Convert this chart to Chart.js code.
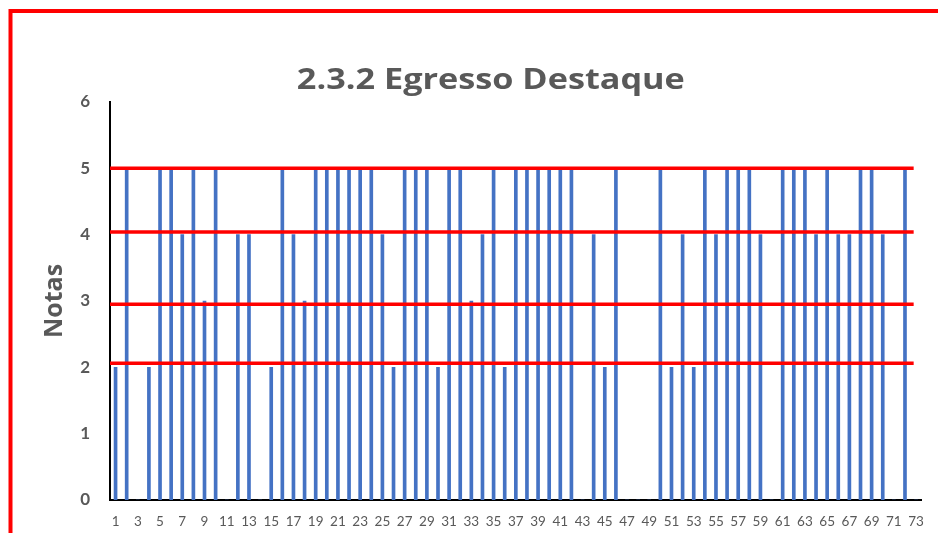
<!DOCTYPE html>
<html>
<head>
<meta charset="utf-8">
<title>2.3.2 Egresso Destaque</title>
<script src="https://cdn.jsdelivr.net/npm/chart.js@4.4.1/dist/chart.umd.min.js"></script>
<style>
    html, body { margin: 0; padding: 0; background: #fff; }
    #wrap { width: 938px; height: 533px; position: relative; }
</style>
</head>
<body>
<div id="wrap"><canvas id="graf"></canvas></div>
<script>
// notas por egresso (1..73), zero = sem nota
const egressos = Array.from({ length: 73 }, (_, i) => String(i + 1));
const notas = [
    2, 5, 0, 2, 5, 5, 4, 5, 3, 5,
    0, 4, 4, 0, 2, 5, 4, 3, 5, 5,
    5, 5, 5, 5, 4, 2, 5, 5, 5, 2,
    5, 5, 3, 4, 5, 2, 5, 5, 5, 5,
    5, 5, 0, 4, 2, 5, 0, 0, 0, 5,
    2, 4, 2, 5, 4, 5, 5, 5, 4, 0,
    5, 5, 5, 4, 5, 4, 4, 5, 5, 4,
    0, 5, 0
];
const ticksY = [0, 1, 2, 3, 4, 5, 6];
// linhas vermelhas marcadas sobre o gráfico
const linhasVermelhas = [5, 4.04, 2.95, 2.06];

const titulo = '2.3.2 Egresso Destaque';
const cinza = '#595959';

// título (um pouco esticado na horizontal), linhas vermelhas e moldura
const marcacoes = {
    id: 'marcacoes',
    afterDatasetsDraw(chart) {
        const { ctx, chartArea, scales } = chart;
        ctx.save();

        ctx.font = 'bold 29px "Open Sans"';
        ctx.fillStyle = cinza;
        ctx.textAlign = 'center';
        ctx.textBaseline = 'alphabetic';
        const larg = ctx.measureText(titulo).width;
        const esc = 388 / larg;
        ctx.save();
        ctx.translate(chartArea.left + (chartArea.right - chartArea.left) / 2 - 25, 89);
        ctx.scale(esc, 1);
        ctx.fillText(titulo, 0, 0);
        ctx.restore();

        ctx.strokeStyle = '#FF0000';
        ctx.lineWidth = 3.5;
        linhasVermelhas.forEach(v => {
            const y = scales.y.getPixelForValue(v);
            ctx.beginPath();
            ctx.moveTo(chartArea.left, y);
            ctx.lineTo(chartArea.right - 8, y);
            ctx.stroke();
        });
        // moldura
        ctx.lineWidth = 4;
        ctx.beginPath();
        ctx.moveTo(10.5, chart.height);
        ctx.lineTo(10.5, 11);
        ctx.lineTo(chart.width, 11);
        ctx.stroke();
        ctx.restore();
    }
};

new Chart('graf', {
    type: 'bar',
    data: {
        labels: egressos,
        datasets: [{
            data: notas,
            backgroundColor: '#4472C4',
            barThickness: 3
        }]
    },
    options: {
        responsive: true,
        maintainAspectRatio: false,
        animation: false,
        layout: { padding: { left: 30, right: 10, top: 102, bottom: 0 } },
        plugins: {
            legend: { display: false },
            tooltip: { enabled: false },
            title: { display: false }
        },
        scales: {
            x: {
                afterFit: scale => { scale.height = 33; },
                grid: { display: false, drawTicks: false },
                border: { display: true, color: '#000', width: 2 },
                ticks: {
                    autoSkip: false,
                    maxRotation: 0,
                    color: cinza,
                    padding: 14,
                    font: { family: 'Lato', size: 13.5 },
                    callback: (v, i) => (i % 2 === 0 ? egressos[i] : '')
                }
            },
            y: {
                min: 0,
                max: 6,
                afterBuildTicks: scale => { scale.ticks = ticksY.map(v => ({ value: v })); },
                afterFit: scale => { scale.width = 80; },
                grid: { display: false, drawTicks: false },
                border: { display: true, color: '#000', width: 2 },
                ticks: {
                    color: cinza,
                    padding: 20,
                    font: { family: 'Lato', size: 17, weight: 'bold' }
                },
                title: {
                    display: true,
                    text: 'Notas',
                    color: cinza,
                    padding: { top: 10, bottom: 0 },
                    font: { family: 'Open Sans', size: 25, weight: 'bold' }
                }
            }
        }
    },
    plugins: [marcacoes]
});
</script>
</body>
</html>
